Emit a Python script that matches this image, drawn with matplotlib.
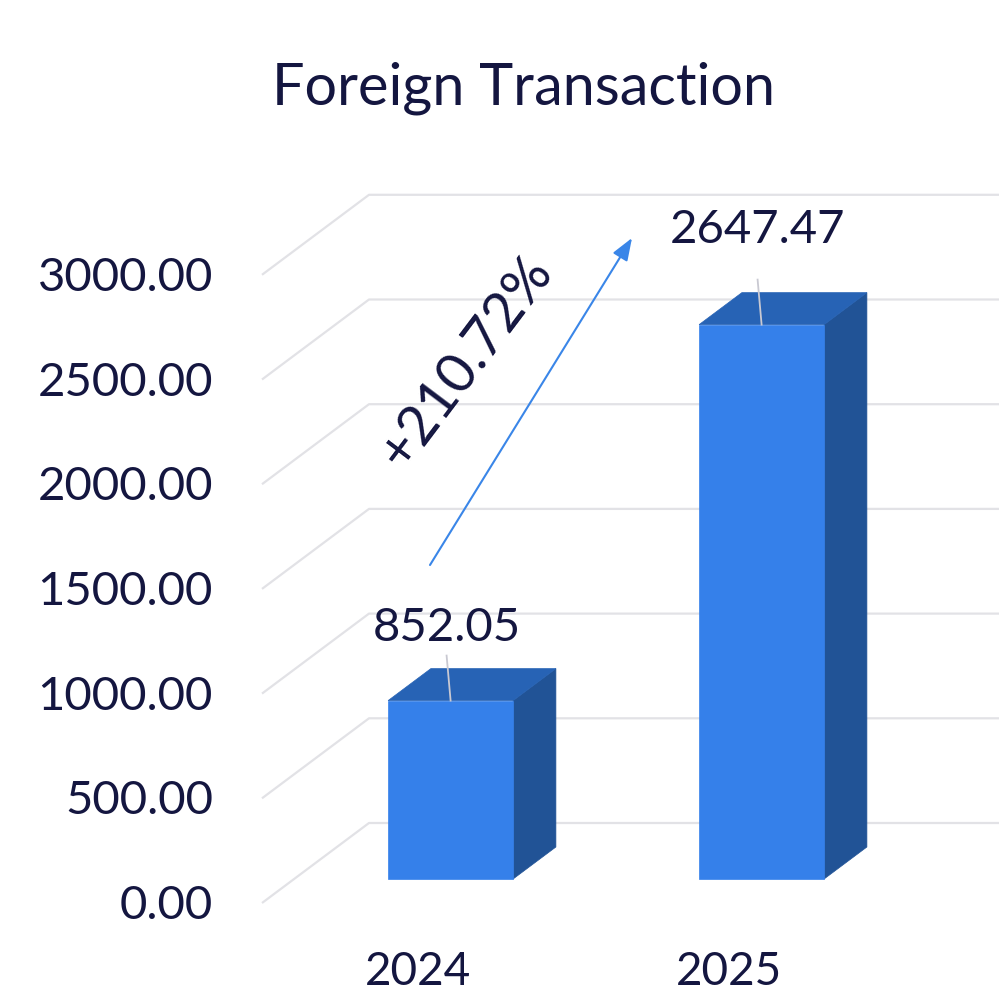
import matplotlib
matplotlib.use("Agg")
import matplotlib.pyplot as plt
from matplotlib.patches import Polygon

# ---- data ----
categories = ["2024", "2025"]
values = [852.05, 2647.47]
value_labels = ["852.05", "2647.47"]
y_ticks = [0, 500, 1000, 1500, 2000, 2500, 3000]
y_tick_labels = ["0.00", "500.00", "1000.00", "1500.00", "2000.00", "2500.00", "3000.00"]
title = "Foreign Transaction"
growth_label = "+210.72%"

# ---- style ----
plt.rcParams['font.family'] = ['Lato', 'DejaVu Sans']
TEXT = "#141640"
GRID = "#e2e2e6"
FRONT = "#3580ea"
TOP = "#2763b5"
SIDE = "#215396"
ARROW = "#3a86e8"

W, H = 999, 1008
fig = plt.figure(figsize=(W / 100, H / 100), dpi=100)
ax = fig.add_axes([0, 0, 1, 1])
ax.axis('off')

# layout anchors (pixels)
PX_CAT0 = 418.5      # category 0 centre on the front plane
PX_PER_CAT = 311.0
PY_ZERO = 903.0      # value 0 on the front plane
PX_PER_VAL = 104.7 / 500.0
ax.set_xlim((0 - PX_CAT0) / PX_PER_CAT, (W - PX_CAT0) / PX_PER_CAT)
ax.set_ylim((PY_ZERO - H) / PX_PER_VAL, PY_ZERO / PX_PER_VAL)

# oblique depth offsets (for depth 0 -> 1)
DX = 107.0 / PX_PER_CAT
DV = 80.0 / PX_PER_VAL
X_WALL = (262.0 - PX_CAT0) / PX_PER_CAT
X_RIGHT = ax.get_xlim()[1]


def P(x, v, d):
    return (x + d * DX, v + d * DV)


# gridlines: side wall diagonal + back wall horizontal
for v in y_ticks:
    p0 = P(X_WALL, v, 0)
    p1 = P(X_WALL, v, 1)
    ax.plot([p0[0], p1[0], X_RIGHT], [p0[1], p1[1], p1[1]],
            color=GRID, lw=1.6, solid_capstyle='butt', zorder=1)

# bars
BW = 125.0 / PX_PER_CAT
D0, D1 = 0.3, 0.7
for i, v in enumerate(values):
    xl, xr = i - BW / 2, i + BW / 2
    side = [P(xr, 0, D0), P(xr, 0, D1), P(xr, v, D1), P(xr, v, D0)]
    top = [P(xl, v, D0), P(xl, v, D1), P(xr, v, D1), P(xr, v, D0)]
    front = [P(xl, 0, D0), P(xr, 0, D0), P(xr, v, D0), P(xl, v, D0)]
    ax.add_patch(Polygon(side, closed=True, fc=SIDE, ec=SIDE, lw=0.5, zorder=3))
    ax.add_patch(Polygon(top, closed=True, fc=TOP, ec=TOP, lw=0.5, zorder=3))
    ax.add_patch(Polygon(front, closed=True, fc=FRONT, ec=FRONT, lw=0.5, zorder=4))

# value labels with leader lines
label_px_above = [73, 95]
for i, (v, lab) in enumerate(zip(values, value_labels)):
    bx, by = P(i, v, D0)
    ly = by + label_px_above[i] / PX_PER_VAL
    lx = bx - 4.0 / PX_PER_CAT
    ax.plot([bx, bx - 4.0 / PX_PER_CAT], [by, by + 45 / PX_PER_VAL],
            color="#c9c9d2", lw=1.3, zorder=5)
    ax.text(lx, ly, lab, ha='center', va='center', fontsize=34, color=TEXT, zorder=6)

# y tick labels
X_TICK = (213.0 - PX_CAT0) / PX_PER_CAT
for v, lab in zip(y_ticks, y_tick_labels):
    ax.text(X_TICK, v - 3 / PX_PER_VAL, lab, ha='right', va='center', fontsize=34, color=TEXT)

# category labels
for i, c in enumerate(categories):
    ax.text(i, -69 / PX_PER_VAL, c, ha='center', va='center', fontsize=33, color=TEXT)

# growth arrow and label
start = ((430 - PX_CAT0) / PX_PER_CAT, (PY_ZERO - 565) / PX_PER_VAL)
end = ((632 - PX_CAT0) / PX_PER_CAT, (PY_ZERO - 238) / PX_PER_VAL)
ax.annotate('', xy=end, xytext=start,
            arrowprops=dict(arrowstyle='-|>,head_length=0.8,head_width=0.3',
                            color=ARROW, lw=1.5, shrinkA=0, shrinkB=0,
                            mutation_scale=17), zorder=6)
ax.text((466 - PX_CAT0) / PX_PER_CAT, (PY_ZERO - 362) / PX_PER_VAL, growth_label,
        rotation=53, rotation_mode='anchor', ha='center', va='center',
        fontsize=40, color=TEXT, zorder=7)

# title
fig.text(523 / W, 1 - 88 / H, title, ha='center', va='center', fontsize=41.5, color=TEXT)

fig.savefig("out.png", dpi=100)
